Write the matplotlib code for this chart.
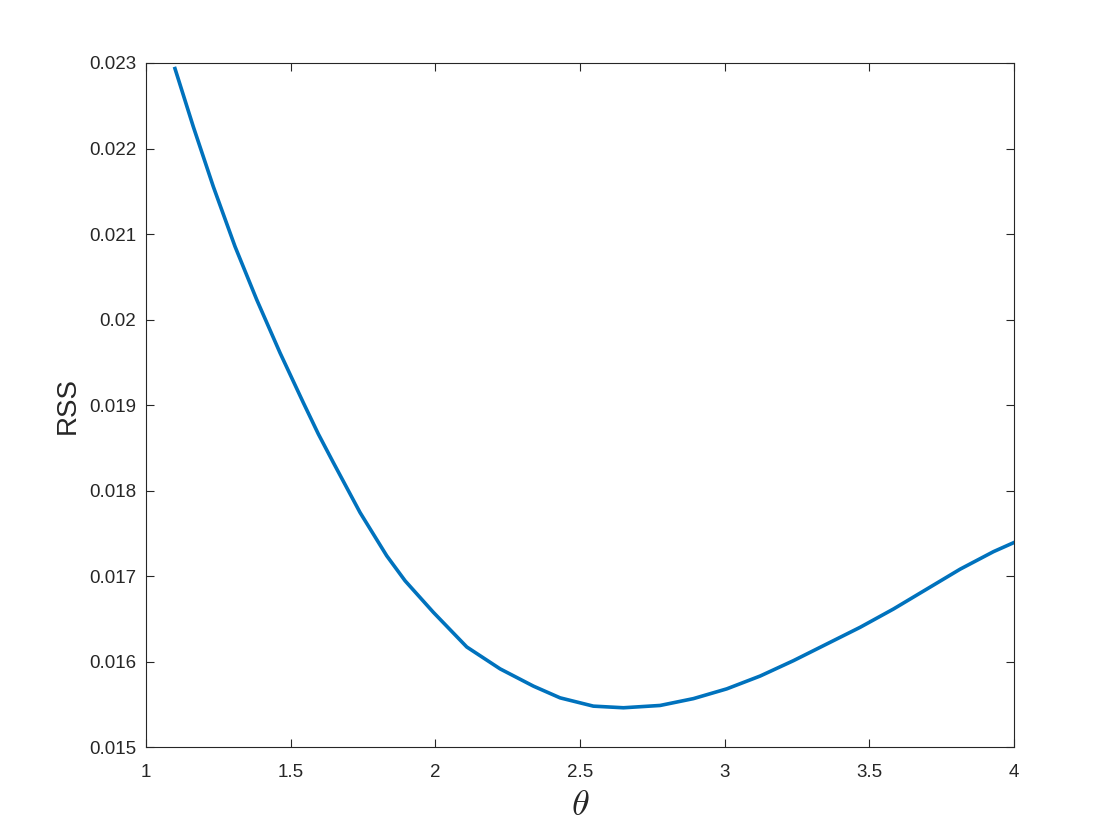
import matplotlib
matplotlib.use("Agg")
from matplotlib import pyplot as plt

# values
theta = [1.100, 1.1635, 1.2326, 1.3076, 1.3826, 1.4632, 1.5437, 1.5956, 1.6474,
         1.7397, 1.8319, 1.8953, 1.9931, 2.1085, 2.2237, 2.3389, 2.431, 2.546,
         2.650, 2.7767, 2.8919, 3.007, 3.1224, 3.2376, 3.3528, 3.468, 3.5832,
         3.6985, 3.8137, 3.929, 4.000]
rss = [0.022935, 0.022253, 0.021553, 0.020853, 0.020231, 0.019609, 0.019026,
       0.018660, 0.018326, 0.017742, 0.017236, 0.016944, 0.016575, 0.016170,
       0.015914, 0.015712, 0.015575, 0.015478, 0.015459, 0.015486, 0.015566,
       0.015680, 0.015830, 0.016010, 0.016205, 0.016400, 0.016614, 0.016847,
       0.017080, 0.017285, 0.017392]

x_ticks = [1, 1.5, 2, 2.5, 3, 3.5, 4]
x_tick_labels = ["1", "1.5", "2", "2.5", "3", "3.5", "4"]
y_ticks = [0.015, 0.016, 0.017, 0.018, 0.019, 0.02, 0.021, 0.022, 0.023]
y_tick_labels = ["0.015", "0.016", "0.017", "0.018", "0.019", "0.02", "0.021", "0.022", "0.023"]

plt.rcParams["font.family"] = ["Liberation Sans", "DejaVu Sans"]
plt.rcParams["mathtext.fontset"] = "cm"

fig = plt.figure(figsize=(11.2, 8.4), dpi=100)
ax = fig.add_axes([0.1304, 0.1107, 0.775, 0.8143])
ax.plot(theta, rss, color="#0072BD", linewidth=2.6)

ax.set_xlim(1, 4)
ax.set_ylim(0.015, 0.023)
ax.set_xticks(x_ticks)
ax.set_xticklabels(x_tick_labels)
ax.set_yticks(y_ticks)
ax.set_yticklabels(y_tick_labels)
ax.tick_params(direction="in", top=True, right=True, length=6, width=0.8,
               labelsize=13.5, colors="#262626")
ax.tick_params(axis="x", pad=12)
ax.tick_params(axis="y", pad=7)
for s in ax.spines.values():
    s.set_color("#262626")
    s.set_linewidth(0.8)

ax.set_xlabel(r"$\theta$", fontsize=26, color="#262626", labelpad=5)
ax.set_ylabel("RSS", fontsize=20, color="#262626", labelpad=6)

fig.savefig("out.png", dpi=100)
